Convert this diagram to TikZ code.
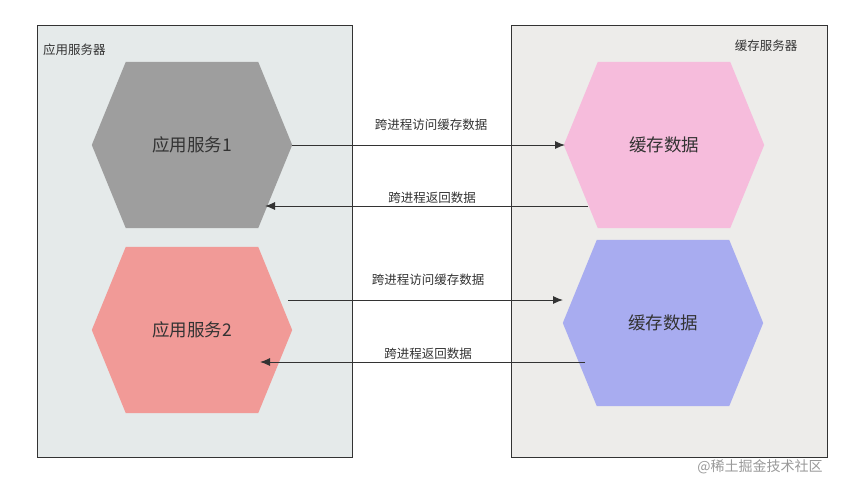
\documentclass[tikz,border=0pt]{standalone}
\usepackage{fontspec}
\newfontfamily\cjk{Noto Sans CJK SC}
\usetikzlibrary{calc,arrows.meta}
\definecolor{leftbg}{HTML}{E5EAEA}
\definecolor{rightbg}{HTML}{EDECEA}
\definecolor{hgray}{HTML}{9E9E9E}
\definecolor{hred}{HTML}{F19A97}
\definecolor{hpink}{HTML}{F6BCDC}
\definecolor{hblue}{HTML}{A8ACF0}
\definecolor{txt}{HTML}{333333}
\tikzset{
  panel/.style={draw=txt, line width=1pt},
  hexbox/.style={minimum width=200pt, minimum height=166pt, inner sep=0pt, font=\cjk\fontsize{17.5}{19}\selectfont, text=txt},
  lbl/.style={font=\cjk\fontsize{12.5}{14}\selectfont, text=txt, inner sep=1pt},
  conn/.style={draw=txt, line width=1pt, -{Latex[length=10pt,width=8pt]}},
}
\newcommand{\hexfill}[2]{\fill[#2] (#1.west) -- ($(#1.north west)+(34pt,0)$) -- ($(#1.north east)+(-34pt,0)$) -- (#1.east) -- ($(#1.south east)+(-34pt,0)$) -- ($(#1.south west)+(34pt,0)$) -- cycle;}
\begin{document}
\begin{tikzpicture}[x=1pt,y=-1pt]
\useasboundingbox (0,0) rectangle (852,483);
\fill[white] (0,0) rectangle (852,483);
\draw[panel, fill=leftbg] (37,25) rectangle (352,457);
\draw[panel, fill=rightbg] (511,25) rectangle (827,457);
\node[lbl, anchor=west] (lt) at (42,50) {应用服务器};
\node[lbl, anchor=center] (rt) at (766,46) {缓存服务器};
\node[hexbox] (a1) at (192,145) {};
\node[hexbox] (a2) at (192,330) {};
\node[hexbox] (c1) at (664,145) {};
\node[hexbox] (c2) at (663,323) {};
\hexfill{a1}{hgray}
\hexfill{a2}{hred}
\hexfill{c1}{hpink}
\hexfill{c2}{hblue}
\node[hexbox] at (a1) {应用服务1};
\node[hexbox] at (a2) {应用服务2};
\node[hexbox] at (c1) {缓存数据};
\node[hexbox] at (c2) {缓存数据};
\coordinate (p1s) at (292,145); \coordinate (p1e) at (565,145);
\coordinate (p2s) at (588,206); \coordinate (p2e) at (265,206);
\coordinate (p3s) at (288,300); \coordinate (p3e) at (563,300);
\coordinate (p4s) at (585,362); \coordinate (p4e) at (260,362);
\draw[conn] (p1s) -- (p1e);
\draw[conn] (p2s) -- (p2e);
\draw[conn] (p3s) -- (p3e);
\draw[conn] (p4s) -- (p4e);
\node[lbl] (l1) at (431,125) {跨进程访问缓存数据};
\node[lbl] (l2) at (432,198) {跨进程返回数据};
\node[lbl] (l3) at (428,280) {跨进程访问缓存数据};
\node[lbl] (l4) at (428,354) {跨进程返回数据};
\node[font=\cjk\fontsize{14}{16}\selectfont, text=black!40] (wm) at (760,467) {@稀土掘金技术社区};
\end{tikzpicture}
\end{document}
